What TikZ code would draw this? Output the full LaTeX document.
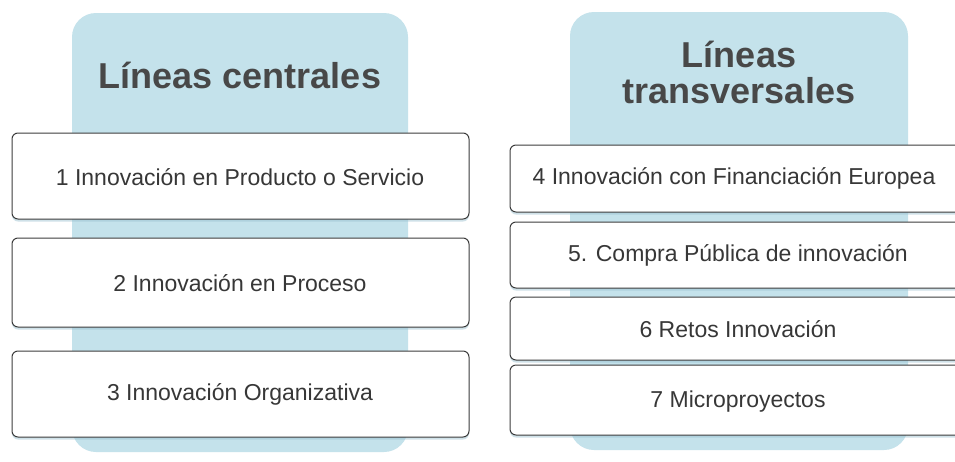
\documentclass[tikz,border=0pt]{standalone}
\usepackage{fontspec}
\setmainfont{Liberation Sans}
\usetikzlibrary{shadows}
\definecolor{panelblue}{RGB}{196,226,235}
\definecolor{paneledge}{RGB}{150,190,205}
\definecolor{titlegray}{RGB}{72,72,72}
\definecolor{textgray}{RGB}{55,55,55}
\definecolor{boxline}{RGB}{60,60,60}
\tikzset{
  panel/.style={fill=panelblue, draw=none, rounded corners=24pt},
  itembox/.style={draw=boxline, line width=1pt, fill=white, rounded corners=6pt,
    drop shadow={shadow xshift=0pt, shadow yshift=-2.5pt, opacity=0.45, fill=paneledge}},
  title/.style={text=titlegray, font=\fontsize{36}{36}\selectfont\bfseries, align=center, inner sep=0pt},
  itemtext/.style={text=textgray, font=\fontsize{23}{27}\selectfont},
}
\begin{document}
\begin{tikzpicture}[x=1pt,y=-1pt]
\useasboundingbox (0,0) rectangle (955,461);
\fill[white] (0,0) rectangle (955,461);
% panels
\path[panel] (72,13) rectangle (408,452);
\path[panel] (570,12) rectangle (908,450);
% titles
\node[title, anchor=base] (t1) at (240,88) {Líneas centrales};
\node[title, anchor=base] (t2) at (739,103) {Líneas\\transversales};
% left boxes
\path[itembox] (12,133) rectangle (469,219);
\path[itembox] (12,238) rectangle (469,327);
\path[itembox] (12,351) rectangle (469,437);
\node[itemtext] (b1) at (240,177) {1 Innovación en Producto o Servicio};
\node[itemtext] (b2) at (240,283) {2 Innovación en Proceso};
\node[itemtext] (b3) at (240,394) {3 Innovación Organizativa};
% right boxes
\path[itembox] (510,145) rectangle (975,212);
\path[itembox] (510,222) rectangle (975,288);
\path[itembox] (510,297) rectangle (975,360);
\path[itembox] (510,365) rectangle (975,435);
\node[itemtext] (b4) at (734,178) {4 Innovación con Financiación Europea};
\node[itemtext] (b5) at (738,255) {5. Compra Pública de innovación};
\node[itemtext] (b6) at (738,329) {6 Retos Innovación};
\node[itemtext] (b7) at (738,402) {7 Microproyectos};
\end{tikzpicture}
\end{document}
